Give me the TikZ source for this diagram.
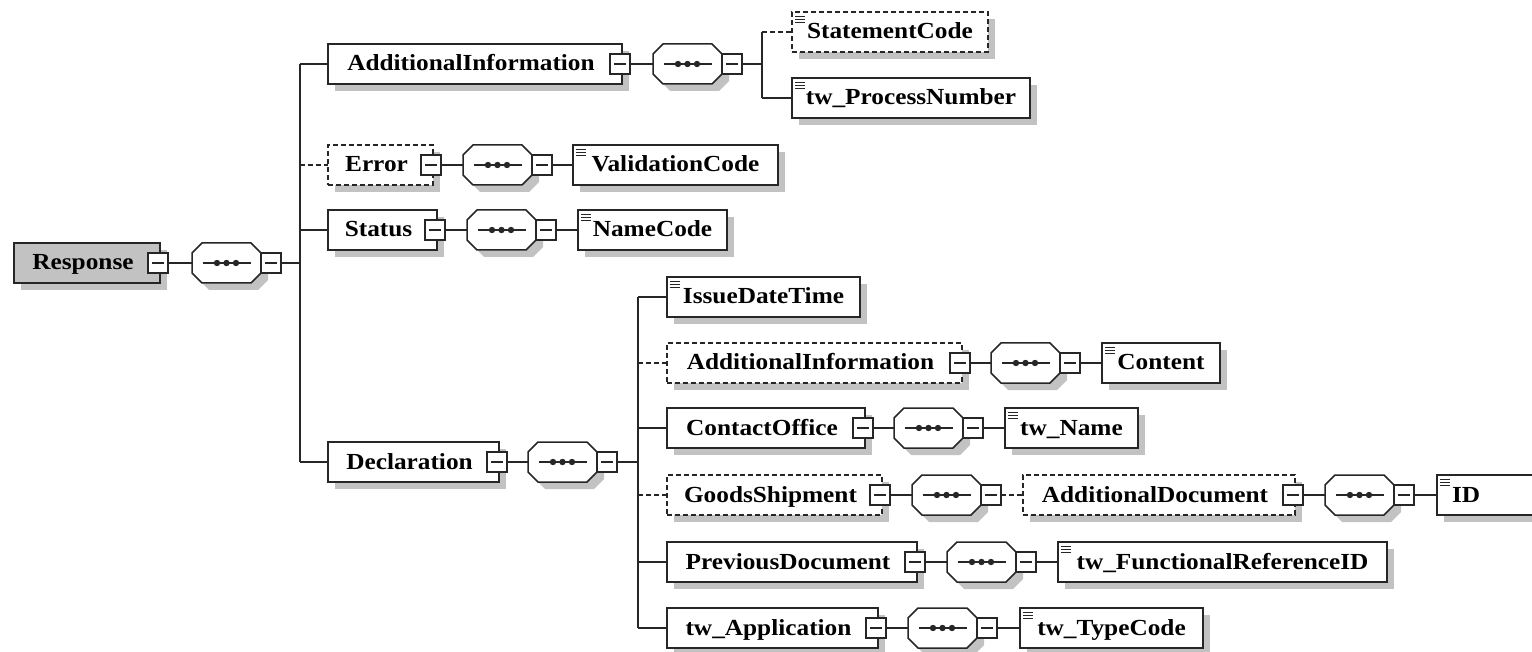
\documentclass[tikz,border=0pt]{standalone}
\usepackage{fontspec}
\setmainfont{Liberation Serif}[FakeStretch=1.1]
\usetikzlibrary{positioning,shapes.misc,shadows}

\newcommand\xsdfont{\bfseries\fontsize{23pt}{23pt}\selectfont}

\tikzset{
  boxshadow/.style={drop shadow={shadow xshift=7pt, shadow yshift=-7pt, fill=black!24, opacity=1}},
  ctype/.style={rectangle, draw=black!85, fill=white, line width=1.9pt, inner sep=0pt, outer sep=0pt,
                minimum height=40pt, text height=18pt, text depth=4pt, font=\xsdfont, boxshadow,
                execute at end node={\hspace{8pt}}},
  stype/.style={rectangle, draw=black!85, fill=white, line width=1.9pt, inner sep=0pt, outer sep=0pt,
                minimum height=40pt, text height=18pt, text depth=4pt, font=\xsdfont, boxshadow,
                path picture={\foreach \k in {4,7,10}
                  \draw[solid, line width=0.9pt] ([xshift=3pt,yshift=-\k pt]path picture bounding box.north west) -- ++(10pt,0pt);}},
  rootbox/.style={ctype, fill=black!24},
  opt/.style={dash pattern=on 5pt off 3pt},
  tog/.style={rectangle, draw=black!85, fill=white, line width=1.5pt, minimum size=20pt, inner sep=0pt, outer sep=0pt,
              path picture={\draw[solid, line width=1.2pt] ([xshift=-6pt]path picture bounding box.center) -- ([xshift=6pt]path picture bounding box.center);}},
  seq/.style={chamfered rectangle, chamfered rectangle xsep=5pt, chamfered rectangle ysep=5pt,
              draw=black!85, fill=white, line width=1.5pt, inner xsep=29.5pt, inner ysep=15pt,
              text height=0pt, text depth=0pt, outer sep=0pt, boxshadow,
              path picture={\draw[solid, line width=1.3pt] ([xshift=-24pt]path picture bounding box.center) -- ([xshift=24pt]path picture bounding box.center);
                \foreach \d in {-9.5,0,9.5} \fill[black!85] ([xshift=\d pt]path picture bounding box.center) circle (3.2pt);}},
  link/.style={draw=black!85, line width=1.7pt},
}

\begin{document}
\begin{tikzpicture}[x=1pt, y=-1pt]
  \useasboundingbox (0,0) rectangle (1532,652);

  % root element
  \node[rootbox, minimum width=146pt] (resp) at (87,263) {Response};
  \node[tog] (resp-t) at ([xshift=-2pt]resp.east) {};
  \node[seq, right=24pt of resp-t] (resp-seq) {};
  \node[tog, right=0pt of resp-seq] (resp-seqt) {};
  \coordinate (resp-bar) at (300,263);

  % AdditionalInformation
  \node[ctype, minimum width=294pt] (ai) at (475,64) {AdditionalInformation};
  \node[tog] (ai-t) at ([xshift=-2pt]ai.east) {};
  \node[seq, right=23pt of ai-t] (ai-seq) {};
  \node[tog, right=0pt of ai-seq] (ai-seqt) {};
  \coordinate (ai-bar) at (762,64);
  \node[stype, opt, minimum width=196pt] (sc) at (890,32) {StatementCode};
  \node[stype, minimum width=238pt] (pn) at (911,98) {tw\_ProcessNumber};

  % Error
  \node[ctype, opt, minimum width=105pt] (err) at (380.5,165) {Error};
  \node[tog] (err-t) at ([xshift=-2pt]err.east) {};
  \node[seq, right=22pt of err-t] (err-seq) {};
  \node[tog, right=0pt of err-seq] (err-seqt) {};
  \node[stype, minimum width=205pt] (val) at (675.5,165) {ValidationCode};

  % Status
  \node[ctype, minimum width=109pt] (st) at (382.5,230) {Status};
  \node[tog] (st-t) at ([xshift=-2pt]st.east) {};
  \node[seq, right=22pt of st-t] (st-seq) {};
  \node[tog, right=0pt of st-seq] (st-seqt) {};
  \node[stype, minimum width=149pt] (nc) at (652.5,230) {NameCode};

  % Declaration
  \node[ctype, minimum width=171pt] (dec) at (413.5,462) {Declaration};
  \node[tog] (dec-t) at ([xshift=-2pt]dec.east) {};
  \node[seq, right=21pt of dec-t] (dec-seq) {};
  \node[tog, right=0pt of dec-seq] (dec-seqt) {};
  \coordinate (dec-bar) at (638,462);

  \node[stype, minimum width=193pt] (idt) at (763.5,297) {IssueDateTime};

  \node[ctype, opt, minimum width=295pt] (ai2) at (814.5,363) {AdditionalInformation};
  \node[tog] (ai2-t) at ([xshift=-2pt]ai2.east) {};
  \node[seq, right=21pt of ai2-t] (ai2-seq) {};
  \node[tog, right=0pt of ai2-seq] (ai2-seqt) {};
  \node[stype, minimum width=118pt] (cnt) at (1161,363) {Content};

  \node[ctype, minimum width=198pt] (co) at (766,428) {ContactOffice};
  \node[tog] (co-t) at ([xshift=-2pt]co.east) {};
  \node[seq, right=21pt of co-t] (co-seq) {};
  \node[tog, right=0pt of co-seq] (co-seqt) {};
  \node[stype, minimum width=133pt] (twn) at (1071.5,428) {tw\_Name};

  \node[ctype, opt, minimum width=215pt] (gs) at (774.5,495) {GoodsShipment};
  \node[tog] (gs-t) at ([xshift=-2pt]gs.east) {};
  \node[seq, right=22pt of gs-t] (gs-seq) {};
  \node[tog, right=0pt of gs-seq] (gs-seqt) {};
  \node[ctype, opt, minimum width=272pt] (ad) at (1159,495) {AdditionalDocument};
  \node[tog] (ad-t) at ([xshift=-2pt]ad.east) {};
  \node[seq, right=22pt of ad-t] (ad-seq) {};
  \node[tog, right=0pt of ad-seq] (ad-seqt) {};
  \node[stype, text width=100pt, align=left, inner xsep=15pt] (id) at (1502,495) {ID};

  \node[ctype, minimum width=250pt] (pd) at (792,562) {PreviousDocument};
  \node[tog] (pd-t) at ([xshift=-2pt]pd.east) {};
  \node[seq, right=22pt of pd-t] (pd-seq) {};
  \node[tog, right=0pt of pd-seq] (pd-seqt) {};
  \node[stype, minimum width=329pt] (fri) at (1222.5,562) {tw\_FunctionalReferenceID};

  \node[ctype, minimum width=211pt] (app) at (772.5,628) {tw\_Application};
  \node[tog] (app-t) at ([xshift=-2pt]app.east) {};
  \node[seq, right=22pt of app-t] (app-seq) {};
  \node[tog, right=0pt of app-seq] (app-seqt) {};
  \node[stype, minimum width=183pt] (tc) at (1111.5,628) {tw\_TypeCode};

  % connectors
  \draw[link] (resp-t) -- (resp-seq);
  \draw[link] (resp-seqt) -- (resp-bar);
  \draw[link] (resp-bar |- ai) -- (resp-bar |- dec);
  \draw[link] (resp-bar |- ai) -- (ai);
  \draw[link, opt] (resp-bar |- err) -- (err);
  \draw[link] (resp-bar |- st) -- (st);
  \draw[link] (resp-bar |- dec) -- (dec);

  \draw[link] (ai-t) -- (ai-seq);
  \draw[link] (ai-seqt) -- (ai-bar);
  \draw[link] (ai-bar |- sc) -- (ai-bar |- pn);
  \draw[link, opt] (ai-bar |- sc) -- (sc);
  \draw[link] (ai-bar |- pn) -- (pn);

  \draw[link] (err-t) -- (err-seq);
  \draw[link] (err-seqt) -- (val);
  \draw[link] (st-t) -- (st-seq);
  \draw[link] (st-seqt) -- (nc);

  \draw[link] (dec-t) -- (dec-seq);
  \draw[link] (dec-seqt) -- (dec-bar);
  \draw[link] (dec-bar |- idt) -- (dec-bar |- app);
  \draw[link] (dec-bar |- idt) -- (idt);
  \draw[link, opt] (dec-bar |- ai2) -- (ai2);
  \draw[link] (dec-bar |- co) -- (co);
  \draw[link, opt] (dec-bar |- gs) -- (gs);
  \draw[link] (dec-bar |- pd) -- (pd);
  \draw[link] (dec-bar |- app) -- (app);

  \draw[link] (ai2-t) -- (ai2-seq);
  \draw[link] (ai2-seqt) -- (cnt);
  \draw[link] (co-t) -- (co-seq);
  \draw[link] (co-seqt) -- (twn);
  \draw[link] (gs-t) -- (gs-seq);
  \draw[link, opt] (gs-seqt) -- (ad);
  \draw[link] (ad-t) -- (ad-seq);
  \draw[link] (ad-seqt) -- (id);
  \draw[link] (pd-t) -- (pd-seq);
  \draw[link] (pd-seqt) -- (fri);
  \draw[link] (app-t) -- (app-seq);
  \draw[link] (app-seqt) -- (tc);
\end{tikzpicture}
\end{document}
